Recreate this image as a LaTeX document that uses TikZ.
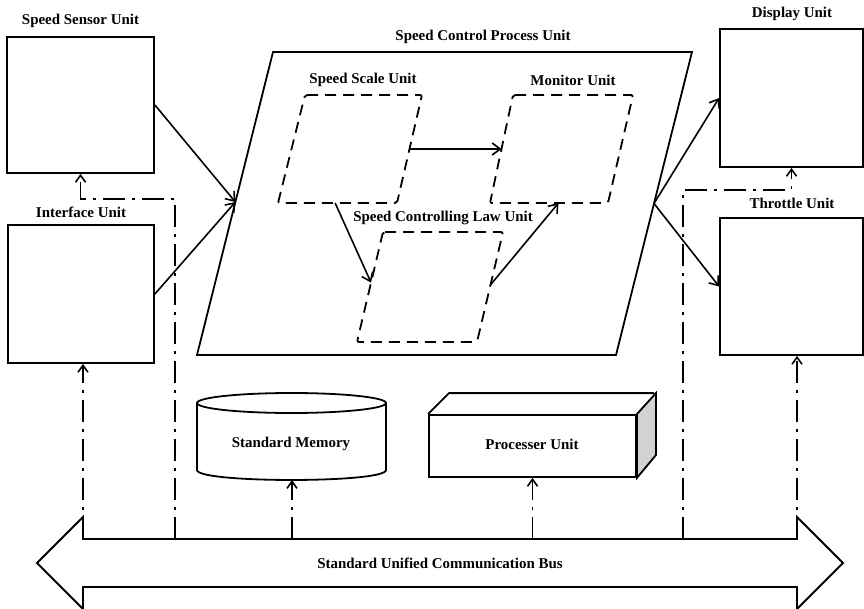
\documentclass[tikz,border=0pt]{standalone}
\usepackage{fontspec}
\setmainfont{Liberation Serif}
\usetikzlibrary{arrows.meta,calc}
\begin{document}
\begin{tikzpicture}[x=1bp, y=-1bp,
  lbl/.style={font=\fontsize{15}{18}\selectfont\bfseries, inner sep=0pt},
  unitbox/.style={draw, line width=1.8bp, inner sep=0pt},
  frame/.style={line width=1.8bp, line join=miter},
  flow/.style={line width=1.6bp, -{Straight Barb[length=8bp,width=12bp,line width=1.6bp]}},
  buslink/.style={line width=1.8bp, dash pattern=on 22bp off 7bp on 3bp off 7bp,
                  -{Straight Barb[length=7bp,width=10bp,line width=1.6bp]}},
  subunit/.style={line width=1.8bp, dash pattern=on 11bp off 7bp, rounded corners=2bp}]

\useasboundingbox (0,0) rectangle (864,609);

% ---------- outer units ----------
\node[unitbox, minimum width=147bp, minimum height=136bp] (sens) at (80.5,105) {};
\node[lbl] (sensl) at (80.5,21) {Speed Sensor Unit};
\node[unitbox, minimum width=146bp, minimum height=138bp] (iface) at (81,294) {};
\node[lbl] (ifacel) at (81,212) {Interface Unit};
\node[unitbox, minimum width=143bp, minimum height=138bp] (disp) at (791.5,98) {};
\node[lbl] (displ) at (792,14) {Display Unit};
\node[unitbox, minimum width=143bp, minimum height=137bp] (thr) at (791.5,286.5) {};
\node[lbl] (thrl) at (792,203) {Throttle Unit};

% ---------- speed control process unit ----------
\coordinate (p1) at (273,52);
\coordinate (p2) at (692,52);
\coordinate (p3) at (616,355);
\coordinate (p4) at (197,355);
\draw[frame] (p1) -- (p2) -- (p3) -- (p4) -- cycle;
\node[lbl] (scpl) at (483,37) {Speed Control Process Unit};
\coordinate (pin) at ($(p1)!.495!(p4)$);
\coordinate (pout) at ($(p2)!.5!(p3)$);

% inner sub-units
\coordinate (ss1) at (305,95);  \coordinate (ss2) at (422,95);
\coordinate (ss3) at (397,203); \coordinate (ss4) at (278,203);
\coordinate (mo1) at (513,95);  \coordinate (mo2) at (633,95);
\coordinate (mo3) at (608,203); \coordinate (mo4) at (490,203);
\coordinate (sc1) at (383,232); \coordinate (sc2) at (503,232);
\coordinate (sc3) at (477,342); \coordinate (sc4) at (357,342);
\draw[subunit] (ss1) -- (ss2) -- (ss3) -- (ss4) -- cycle;
\draw[subunit] (mo1) -- (mo2) -- (mo3) -- (mo4) -- cycle;
\draw[subunit] (sc1) -- (sc2) -- (sc3) -- (sc4) -- cycle;
\node[lbl] (ssl) at (363,80) {Speed Scale Unit};
\node[lbl] (mol) at (573,80) {Monitor Unit};
\node[lbl] (scl) at (443,218) {Speed Controlling Law Unit};

\coordinate (ssR) at ($(ss2)!.5!(ss3)$);
\coordinate (moL) at ($(mo1)!.5!(mo4)$);
\coordinate (ssB) at ($(ss4)!.48!(ss3)$);
\coordinate (scL) at ($(sc1)!.46!(sc4)$);
\coordinate (scR) at ($(sc2)!.48!(sc3)$);
\coordinate (moB) at ($(mo4)!.58!(mo3)$);
\draw[flow] (ssR) -- (moL);
\draw[flow] (ssB) -- (scL);
\draw[flow] (scR) -- (moB);

% data flow into and out of the process unit
\draw[flow] (sens.east) -- (pin);
\draw[flow] (iface.east) -- (pin);
\draw[flow] (pout) -- (disp.west);
\draw[flow] (pout) -- (thr.west);

% ---------- memory and processor ----------
\draw[line width=1.8bp] (291.5,403) ellipse [x radius=94.5, y radius=10];
\draw[line width=1.8bp] (197,403) -- (197,470)
  .. controls (197,483.3) and (386,483.3) .. (386,470) -- (386,403);
\node[lbl] (mem) at (291,444) {Standard Memory};
\coordinate (memB) at (292,480);

\node[unitbox, minimum width=207bp, minimum height=62bp] (proc) at (532.5,446) {};
\draw[frame, fill=gray!35] (proc.north east) -- ++(19,-21) -- ++(0,62) -- (proc.south east) -- cycle;
\draw[frame] (proc.north west) -- ++(21,-21) -- ++(205,0);
\node[lbl] (procl) at (532,444) {Processer Unit};

% ---------- communication bus ----------
\coordinate (busTL) at (83,539);
\coordinate (busTR) at (797,539);
\draw[frame] (busTL) -- (busTR) -- (797,517) -- (843,563) -- (797,609) -- (797,587)
  -- (83,587) -- (83,609) -- (37,563) -- (83,517) -- cycle;
\node[lbl] (bus) at (440,563) {Standard Unified Communication Bus};

\coordinate (b1) at (175,539);
\coordinate (b1t) at (175,199);
\coordinate (b2) at (292,539);
\coordinate (b3) at (532.5,539);
\coordinate (b4) at (683,539);
\coordinate (b4t) at (683,190);

\draw[buslink] (busTL) -- (busTL |- iface.south);
\draw[buslink] (b1) -- (b1t) -| (sens.south);
\draw[buslink] (b2) -- (memB);
\draw[buslink] (b3) -- (proc.south);
\draw[buslink] (b4) -- (b4t) -| (disp.south);
\draw[buslink] (busTR) -- (busTR |- thr.south);
\end{tikzpicture}
\end{document}
